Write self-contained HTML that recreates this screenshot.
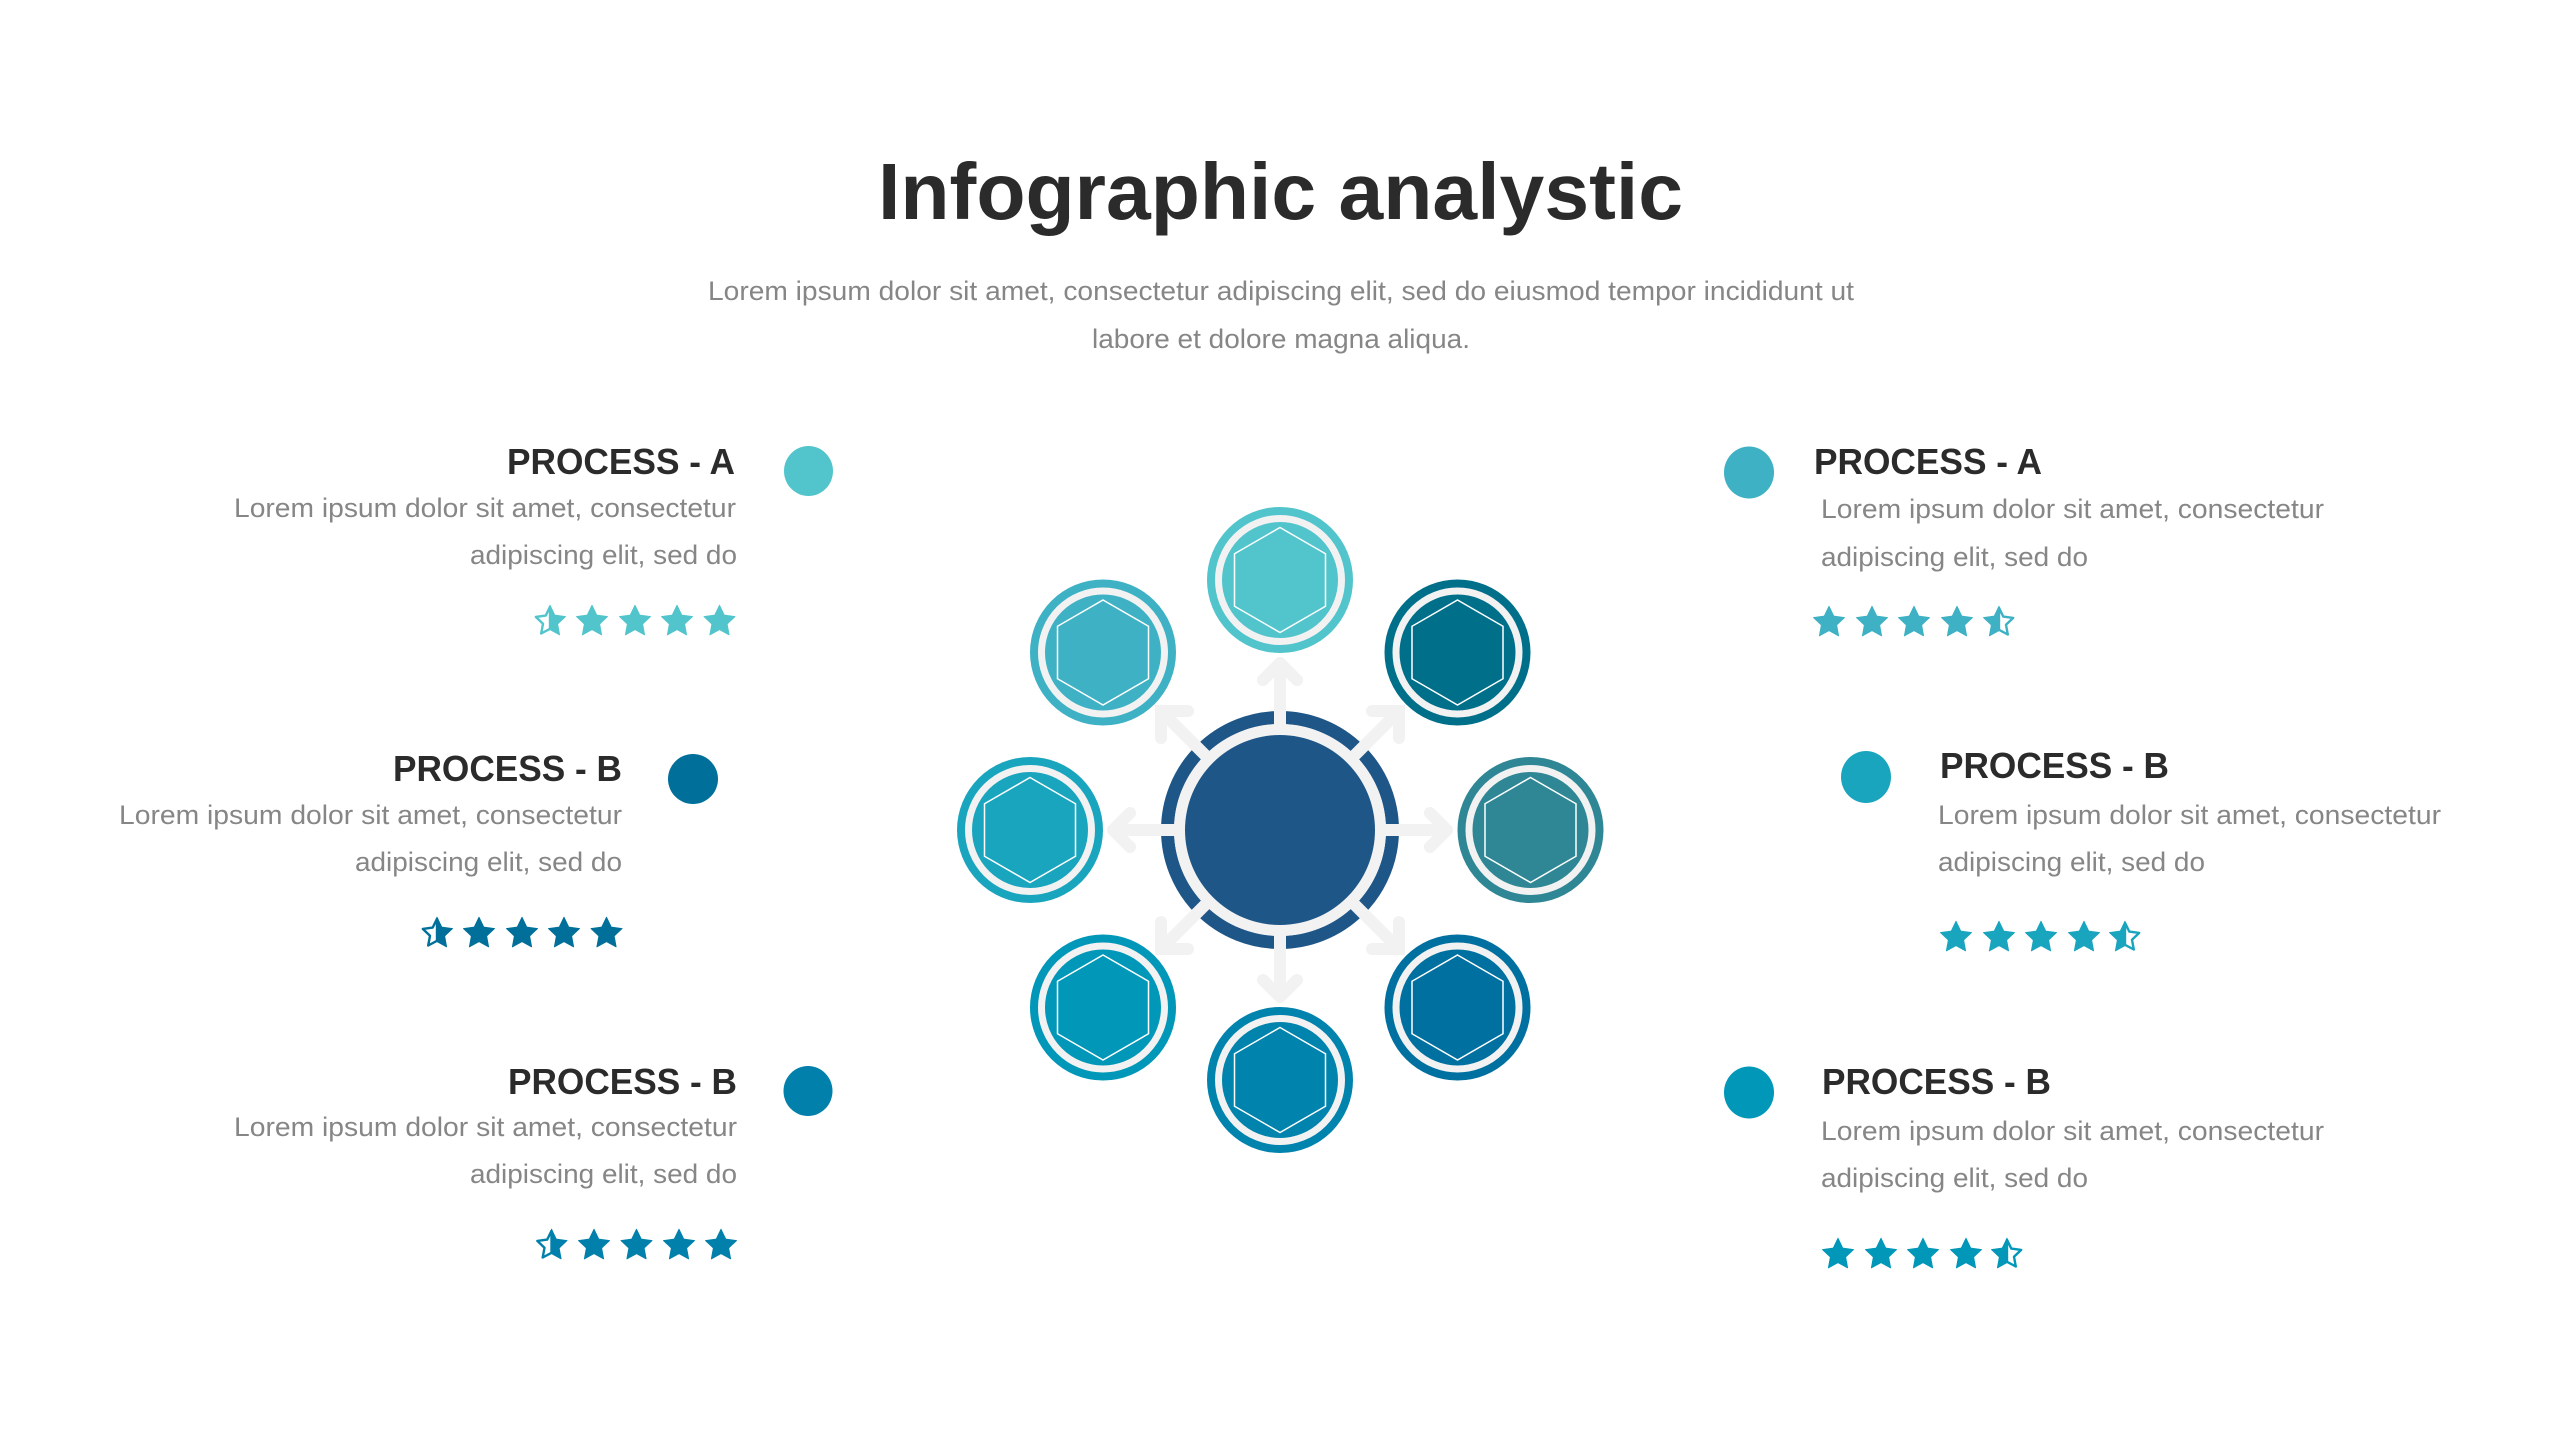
<!DOCTYPE html>
<html><head><meta charset="utf-8"><title>Infographic analystic</title>
<style>
html,body{margin:0;padding:0;background:#fff;width:2560px;height:1440px;overflow:hidden}
svg{display:block}
text{font-family:"Liberation Sans",sans-serif}
.h{font-size:36px;font-weight:700;fill:#2b2b2b}
.p{font-size:27px;fill:#868686}
.t{font-size:80px;font-weight:700;fill:#2b2b2b}
.st{stroke:currentColor;stroke-width:1;stroke-linejoin:round}
</style></head><body>
<svg width="2560" height="1440" viewBox="0 0 2560 1440" xmlns="http://www.w3.org/2000/svg">
<defs>
<polygon id="s" points="0,-14.7 4.7,-4.87 15.5,-3.44 7.6,4.07 9.58,14.79 0,9.6 -9.58,14.79 -7.6,4.07 -15.5,-3.44 -4.7,-4.87"/>
<g id="hl"><polygon points="0,-14.7 4.7,-4.87 15.5,-3.44 7.6,4.07 9.58,14.79 0,9.6"/><polygon points="0,-13.2 -4.3,-4.4 -14.2,-3.1 -7,3.8 -8.8,13.5 0,8.8" fill="#fff" stroke="currentColor" stroke-width="2.4"/></g>
<g id="hr"><polygon points="0,-14.7 -4.7,-4.87 -15.5,-3.44 -7.6,4.07 -9.58,14.79 0,9.6"/><polygon points="0,-13.2 4.3,-4.4 14.2,-3.1 7,3.8 8.8,13.5 0,8.8" fill="#fff" stroke="currentColor" stroke-width="2.4"/></g>
<g id="node"><circle r="61.5" fill="none" stroke="#f2f2f2" stroke-width="7"/><polygon points="0,-52.5 45.5,-26.25 45.5,26.25 0,52.5 -45.5,26.25 -45.5,-26.25" fill="none" stroke="#fff" stroke-width="1.5"/></g>
<g id="arrO"><line x1="0" y1="-100" x2="0" y2="-167" stroke="#f2f2f2" stroke-width="12"/><polyline points="-17,-150 0,-167 17,-150" fill="none" stroke="#f2f2f2" stroke-width="12" stroke-linecap="round" stroke-linejoin="round"/></g>
<g id="arrD"><line x1="70" y1="-70" x2="118" y2="-118" stroke="#f2f2f2" stroke-width="12"/><polyline points="92,-119 119,-119 119,-92" fill="none" stroke="#f2f2f2" stroke-width="12" stroke-linecap="round" stroke-linejoin="miter"/></g>
</defs>

<text class="t" x="878" y="219" textLength="805" lengthAdjust="spacingAndGlyphs">Infographic analystic</text>
<text class="p" x="708" y="300" textLength="1146" lengthAdjust="spacingAndGlyphs">Lorem ipsum dolor sit amet, consectetur adipiscing elit, sed do eiusmod tempor incididunt ut</text>
<text class="p" x="1092" y="348" textLength="378" lengthAdjust="spacingAndGlyphs">labore et dolore magna aliqua.</text>

<!-- central diagram -->
<g transform="translate(1280,830)">
<circle r="112.5" fill="none" stroke="#1f5688" stroke-width="13"/>
<use href="#arrO"/>
<use href="#arrO" transform="rotate(90)"/>
<use href="#arrO" transform="rotate(180)"/>
<use href="#arrO" transform="rotate(270)"/>
<use href="#arrD"/>
<use href="#arrD" transform="rotate(90)"/>
<use href="#arrD" transform="rotate(180)"/>
<use href="#arrD" transform="rotate(270)"/>
<circle r="106" fill="#f2f2f2"/>
<circle r="95" fill="#1f5688"/>
</g>
<g><circle cx="1280" cy="580" r="73" fill="#52c4cc"/><use href="#node" x="1280" y="580"/></g>
<g><circle cx="1457.5" cy="652.5" r="73" fill="#006f8a"/><use href="#node" x="1457.5" y="652.5"/></g>
<g><circle cx="1530.5" cy="830" r="73" fill="#2f8795"/><use href="#node" x="1530.5" y="830"/></g>
<g><circle cx="1457.5" cy="1007.5" r="73" fill="#0070a0"/><use href="#node" x="1457.5" y="1007.5"/></g>
<g><circle cx="1280" cy="1080" r="73" fill="#0083ad"/><use href="#node" x="1280" y="1080"/></g>
<g><circle cx="1103" cy="1007.5" r="73" fill="#0097b8"/><use href="#node" x="1103" y="1007.5"/></g>
<g><circle cx="1030" cy="830" r="73" fill="#1aa5bf"/><use href="#node" x="1030" y="830"/></g>
<g><circle cx="1103" cy="652.5" r="73" fill="#3eb1c4"/><use href="#node" x="1103" y="652.5"/></g>

<!-- Left A -->
<ellipse cx="808.5" cy="471" rx="24.5" ry="25" fill="#52c4cc"/>
<text class="h" x="507" y="474" textLength="228" lengthAdjust="spacingAndGlyphs">PROCESS - A</text>
<text class="p" x="234" y="517" textLength="502" lengthAdjust="spacingAndGlyphs">Lorem ipsum dolor sit amet, consectetur</text>
<text class="p" x="470" y="564" textLength="267" lengthAdjust="spacingAndGlyphs">adipiscing elit, sed do</text>
<g fill="#52c4cc" color="#52c4cc" class="st">
<use href="#hl" x="550" y="620"/><use href="#s" x="592" y="620"/><use href="#s" x="635" y="620"/><use href="#s" x="677" y="620"/><use href="#s" x="719.5" y="620"/>
</g>

<!-- Left B -->
<ellipse cx="693" cy="779" rx="25" ry="25" fill="#00709b"/>
<text class="h" x="393" y="781" textLength="229" lengthAdjust="spacingAndGlyphs">PROCESS - B</text>
<text class="p" x="119" y="824" textLength="503" lengthAdjust="spacingAndGlyphs">Lorem ipsum dolor sit amet, consectetur</text>
<text class="p" x="355" y="871" textLength="267" lengthAdjust="spacingAndGlyphs">adipiscing elit, sed do</text>
<g fill="#00709b" color="#00709b" class="st">
<use href="#hl" x="437" y="932"/><use href="#s" x="479" y="932"/><use href="#s" x="522" y="932"/><use href="#s" x="564" y="932"/><use href="#s" x="606.5" y="932"/>
</g>

<!-- Left C -->
<ellipse cx="808" cy="1091" rx="24.5" ry="25" fill="#0080aa"/>
<text class="h" x="508" y="1094" textLength="229" lengthAdjust="spacingAndGlyphs">PROCESS - B</text>
<text class="p" x="234" y="1136" textLength="503" lengthAdjust="spacingAndGlyphs">Lorem ipsum dolor sit amet, consectetur</text>
<text class="p" x="470" y="1183" textLength="267" lengthAdjust="spacingAndGlyphs">adipiscing elit, sed do</text>
<g fill="#0080aa" color="#0080aa" class="st">
<use href="#hl" x="551.5" y="1244"/><use href="#s" x="594" y="1244"/><use href="#s" x="636.5" y="1244"/><use href="#s" x="679" y="1244"/><use href="#s" x="721" y="1244"/>
</g>

<!-- Right A -->
<ellipse cx="1749" cy="472.5" rx="25" ry="26" fill="#3eb1c4"/>
<text class="h" x="1814" y="474" textLength="228" lengthAdjust="spacingAndGlyphs">PROCESS - A</text>
<text class="p" x="1821" y="518" textLength="503" lengthAdjust="spacingAndGlyphs">Lorem ipsum dolor sit amet, consectetur</text>
<text class="p" x="1821" y="566" textLength="267" lengthAdjust="spacingAndGlyphs">adipiscing elit, sed do</text>
<g fill="#3eb1c4" color="#3eb1c4" class="st">
<use href="#s" x="1829" y="621"/><use href="#s" x="1872" y="621"/><use href="#s" x="1914" y="621"/><use href="#s" x="1957" y="621"/><use href="#hr" x="1999" y="621"/>
</g>

<!-- Right B -->
<ellipse cx="1866" cy="777" rx="25" ry="26" fill="#1aa5bf"/>
<text class="h" x="1940" y="778" textLength="229" lengthAdjust="spacingAndGlyphs">PROCESS - B</text>
<text class="p" x="1938" y="824" textLength="503" lengthAdjust="spacingAndGlyphs">Lorem ipsum dolor sit amet, consectetur</text>
<text class="p" x="1938" y="871" textLength="267" lengthAdjust="spacingAndGlyphs">adipiscing elit, sed do</text>
<g fill="#1aa5bf" color="#1aa5bf" class="st">
<use href="#s" x="1956" y="936"/><use href="#s" x="1999" y="936"/><use href="#s" x="2041" y="936"/><use href="#s" x="2084" y="936"/><use href="#hr" x="2125" y="936"/>
</g>

<!-- Right C -->
<ellipse cx="1749" cy="1092.5" rx="25" ry="26" fill="#0097b8"/>
<text class="h" x="1822" y="1094" textLength="229" lengthAdjust="spacingAndGlyphs">PROCESS - B</text>
<text class="p" x="1821" y="1140" textLength="503" lengthAdjust="spacingAndGlyphs">Lorem ipsum dolor sit amet, consectetur</text>
<text class="p" x="1821" y="1187" textLength="267" lengthAdjust="spacingAndGlyphs">adipiscing elit, sed do</text>
<g fill="#0097b8" color="#0097b8" class="st">
<use href="#s" x="1838" y="1253"/><use href="#s" x="1881" y="1253"/><use href="#s" x="1923" y="1253"/><use href="#s" x="1966" y="1253"/><use href="#hr" x="2007" y="1253"/>
</g>
</svg>
</body></html>
